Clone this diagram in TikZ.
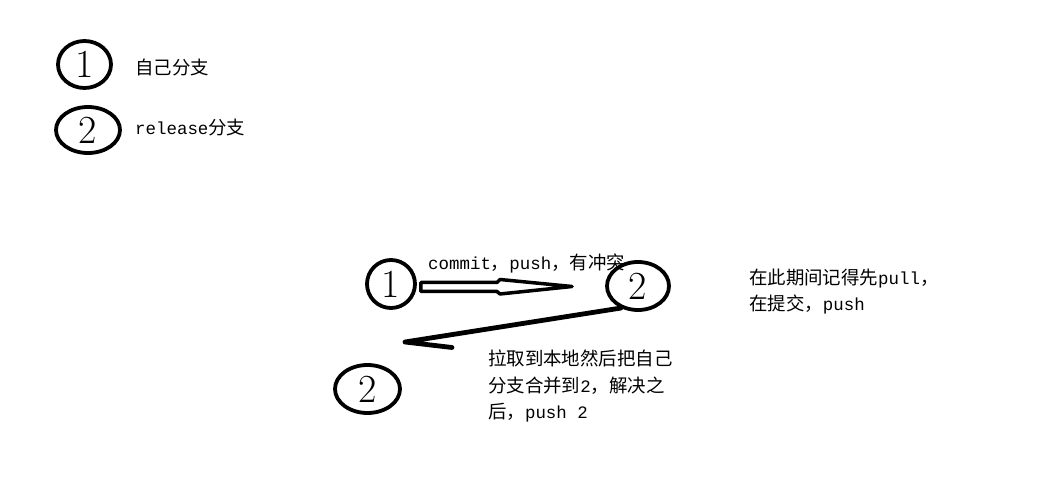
\documentclass[tikz,border=0pt]{standalone}
\usepackage{fontspec}
\newfontfamily\cjkfam{Noto Sans CJK SC}
\setmonofont{Liberation Mono}
\newcommand\cj{\cjkfam\fontsize{18.5}{18.5}\selectfont}
\newcommand\mo{\ttfamily\fontsize{17.5}{17.5}\selectfont}
\usetikzlibrary{shapes.geometric,calc}
\begin{document}
\begin{tikzpicture}[x=1bp,y=-1bp,
  bubble/.style={draw, ellipse, line width=3.8bp, inner sep=0pt, font=\fontsize{40}{40}\selectfont},
  lbl/.style={anchor=base west, inner sep=0pt},
  hollow/.style={line width=3.5bp, line join=round},
  stroke/.style={line width=4.8bp, line cap=round, line join=round}]
\useasboundingbox (0,0) rectangle (1047,496);
% legend
\node[bubble, minimum width=53bp, minimum height=47bp] (l1) at (84.5,64.5) {1};
\node[bubble, minimum width=64bp, minimum height=46bp] (l2) at (88,130) {2};
\node[lbl] (t1) at (135,75) {\cj 自己分支};
\node[lbl] (t2) at (135,135) {\mo release\cj 分支};
% main diagram
\node[bubble, minimum width=48bp, minimum height=48bp] (m1) at (391,284) {1};
\node[bubble, minimum width=62bp, minimum height=48bp] (r2) at (638,286) {2};
\node[bubble, minimum width=65bp, minimum height=48bp] (b2) at (367.5,389) {2};
% hollow arrow from 1 to 2
\coordinate (ha) at ($(m1.east)+(4,0)$);
\draw[hollow] ($(ha)+(0,-1.5)$) -- (497,282.5) -- (500,279.5) -- (572,286.5) -- (500,294) -- (497,291.5) -- ($(ha)+(0,7.5)$) -- cycle;
% return stroke
\coordinate (tipb) at (405,342);
\coordinate (endb) at (452,347.5);
\draw[stroke] (r2.232) -- (tipb) -- (endb);
% labels
\node[lbl] (c1) at (428,270) {\mo commit\cj ，\mo push\cj ，有冲突};
\node[lbl] (n1) at (749,285) {\cj 在此期间记得先\mo pull\cj ，};
\node[lbl] (n2) at (749,311) {\cj 在提交，\mo push};
\node[lbl] (d1) at (488,366) {\cj 拉取到本地然后把自己};
\node[lbl] (d2) at (488,392) {\cj 分支合并到\mo 2\cj ，解决之};
\node[lbl] (d3) at (488,418) {\cj 后，\mo push 2};
\end{tikzpicture}
\end{document}
